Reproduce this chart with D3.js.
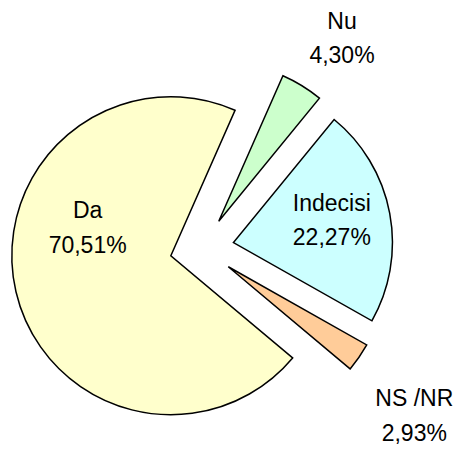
<!DOCTYPE html>
<html>
<head>
<meta charset="utf-8">
<script src="https://cdn.jsdelivr.net/npm/d3@7"></script>
<style>
  html, body { margin: 0; padding: 0; background: #fff; }
  text { font-family: "Liberation Sans", Arial, sans-serif; fill: #000; }
</style>
</head>
<body>
<div id="chart"></div>
<script>
// Date
const categories = ['Da', 'Nu', 'Indecisi', 'NS /NR'];
const values = [70.51, 4.30, 22.27, 2.93];
const valueLabels = ['70,51%', '4,30%', '22,27%', '2,93%'];
const colors = ['#FFFFCC', '#CCFFCC', '#CCFFFF', '#FFCC99'];

// Dimensiuni
const width = 462;
const height = 451;
const cx = 202, cy = 248.5;
const radius = 159;
const explode = 32;
const deg = Math.PI / 180;

// pozitia etichetelor fata de varful feliei (unghi, distanta)
const labelLayout = [
    { angle: 289, dist: 88 },
    { angle: 33.9, dist: 221 },
    { angle: 76.9, dist: 101 },
    { angle: 128.6, dist: 238 }
];

const svg = d3.select('#chart')
    .append('svg')
    .attr('width', width)
    .attr('height', height);

const pie = d3.pie()
    .sort(null)
    .value(d => d)
    .startAngle(130 * deg)
    .endAngle(490 * deg);

const arcs = pie(values);

const arc = d3.arc()
    .innerRadius(0)
    .outerRadius(radius);

// varful fiecarei felii (deplasat din centru)
function apex(d) {
    const mid = (d.startAngle + d.endAngle) / 2;
    return [cx + explode * Math.sin(mid), cy - explode * Math.cos(mid)];
}

const g = svg.append('g');

g.selectAll('path')
    .data(arcs)
    .enter().append('path')
    .attr('transform', d => `translate(${apex(d)})`)
    .attr('d', arc)
    .attr('fill', (d, i) => colors[i])
    .attr('stroke', '#000')
    .attr('stroke-width', 1.5)
    .attr('stroke-linejoin', 'miter');

// Etichete
const fontSize = 23;
const lineGap = 34.5;

const label = g.selectAll('text')
    .data(arcs)
    .enter().append('text')
    .attr('text-anchor', 'middle')
    .attr('font-size', fontSize)
    .attr('transform', (d, i) => {
        const [ax, ay] = apex(d);
        const a = labelLayout[i].angle * deg;
        const r = labelLayout[i].dist;
        return `translate(${ax + r * Math.sin(a)},${ay - r * Math.cos(a)})`;
    });

label.append('tspan')
    .attr('x', 0)
    .attr('y', -lineGap / 2 + fontSize * 0.36)
    .text((d, i) => categories[i]);

label.append('tspan')
    .attr('x', 0)
    .attr('y', lineGap / 2 + fontSize * 0.36)
    .text((d, i) => valueLabels[i]);
</script>
</body>
</html>
